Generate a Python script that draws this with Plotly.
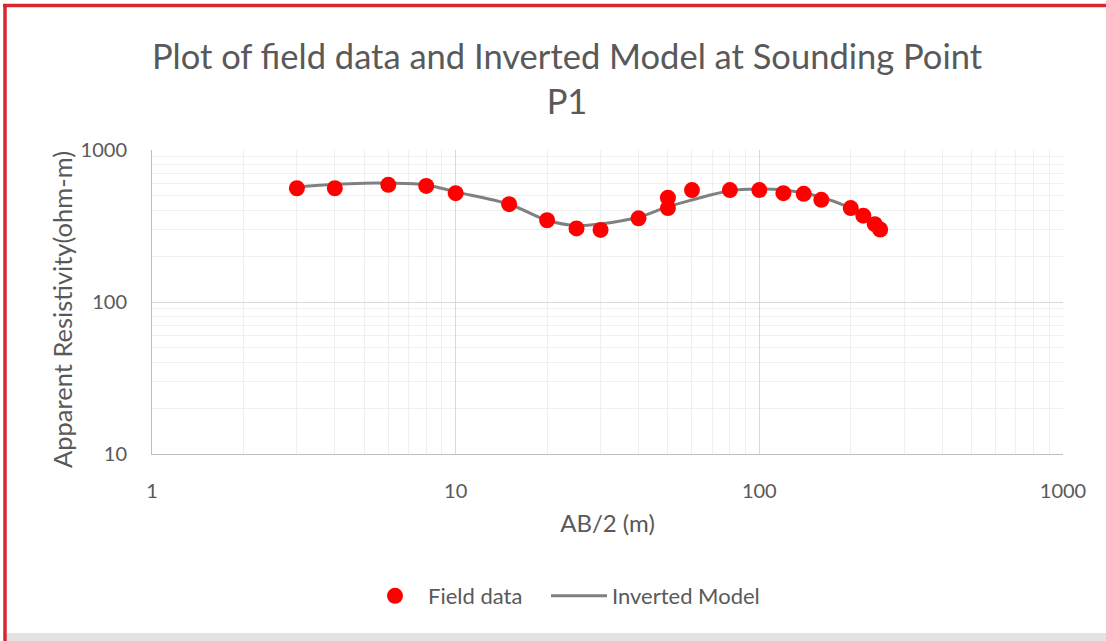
import plotly.graph_objects as go

# Field measurements: AB/2 spacing (m) and apparent resistivity (ohm-m)
field_ab2 = [3, 4, 6, 8, 10, 15, 20, 25, 30, 40, 50, 50, 60, 80, 100, 120, 140, 160, 200, 220, 240, 250]
field_rho = [560, 560, 590, 580, 520, 440, 345, 305, 298, 355, 485, 415, 545, 545, 545, 520, 515, 470, 415, 370, 325, 300]

# Inverted model response
model_ab2 = [3, 4, 5, 6, 8, 10, 15, 20, 25, 30, 40, 50, 60, 80, 100, 120, 150, 200, 250]
model_rho = [570, 595, 605, 605, 589, 530, 440, 345, 318, 326, 361, 424, 469, 540, 553, 545, 506, 413, 305]

x_ticks = [1, 10, 100, 1000]
y_ticks = [10, 100, 1000]

W, H = 1106, 641
ML, MR, MT, MB = 152, 43, 150, 187
PW, PH = W - ML - MR, H - MT - MB

TXT = "#595959"
FONT = "Lato"


def px_x(p):
    return (p - ML) / PW


def px_y(p):
    return (H - MB - p) / PH


fig = go.Figure()
fig.add_trace(go.Scatter(
    x=model_ab2, y=model_rho, mode="lines", name="Inverted Model", legend="legend2",
    line=dict(color="#808080", width=3, shape="spline", smoothing=1.0),
))
fig.add_trace(go.Scatter(
    x=field_ab2, y=field_rho, mode="markers", name="Field data", legend="legend",
    marker=dict(color="#ff0000", size=16, line=dict(width=0)),
))

# Red frame on the top and left edges, grey band along the bottom
fig.add_shape(type="line", xref="paper", yref="paper",
              x0=px_x(3), x1=px_x(W + 20), y0=px_y(5.5), y1=px_y(5.5),
              line=dict(color="#d9262f", width=3.5), layer="above")
fig.add_shape(type="line", xref="paper", yref="paper",
              x0=px_x(5), x1=px_x(5), y0=px_y(H + 20), y1=px_y(4),
              line=dict(color="#d9262f", width=3.5), layer="above")
fig.add_shape(type="rect", xref="paper", yref="paper",
              x0=px_x(7), x1=px_x(W), y0=px_y(H), y1=px_y(633),
              fillcolor="#e3e3e3", line=dict(width=0), layer="above")

# Vertical axis title
fig.add_annotation(
    text="Apparent Resistivity(ohm-m)", textangle=-90, showarrow=False,
    xref="paper", yref="paper", x=px_x(62), y=px_y(310),
    xanchor="center", yanchor="middle",
    font=dict(size=25.5, color=TXT, family=FONT),
)

legend_style = dict(
    orientation="h", y=px_y(596), yanchor="middle", xanchor="left",
    font=dict(size=22, color=TXT, family=FONT), itemwidth=56,
    bgcolor="rgba(0,0,0,0)",
)

fig.update_layout(
    width=W, height=H,
    margin=dict(l=ML, r=MR, t=MT, b=MB),
    paper_bgcolor="white", plot_bgcolor="white",
    font=dict(family=FONT, color=TXT),
    title=dict(
        text="Plot of field data and Inverted Model at Sounding Point<br>P1",
        x=567 / W, xanchor="center", y=1 - 69 / H, yanchor="middle",
        font=dict(size=34.5, color=TXT, family=FONT),
    ),
    showlegend=True,
    legend=dict(x=px_x(362), **legend_style),
    legend2=dict(x=px_x(546), **legend_style),
)

fig.update_xaxes(
    type="log", range=[0, 3], tickvals=x_ticks, ticktext=[str(v) for v in x_ticks],
    showgrid=True, gridcolor="#d9d9d9", gridwidth=1,
    minor=dict(dtick="D1", showgrid=True, gridcolor="#efefef", gridwidth=1, ticks=""),
    showline=True, linecolor="#bfbfbf", linewidth=1, zeroline=False,
    ticks="", ticklabelstandoff=19,
    tickfont=dict(size=20, color=TXT, family=FONT),
    title=dict(text="AB/2 (m)", font=dict(size=24, color=TXT, family=FONT), standoff=14),
)
fig.update_yaxes(
    type="log", range=[1, 3], tickvals=y_ticks, ticktext=[str(v) for v in y_ticks],
    showgrid=True, gridcolor="#d9d9d9", gridwidth=1,
    minor=dict(dtick="D1", showgrid=True, gridcolor="#efefef", gridwidth=1, ticks=""),
    showline=True, linecolor="#bfbfbf", linewidth=1, zeroline=False,
    ticks="", ticklabelstandoff=20,
    tickfont=dict(size=20, color=TXT, family=FONT),
)

fig.write_html("out.html", config={"displayModeBar": False})
